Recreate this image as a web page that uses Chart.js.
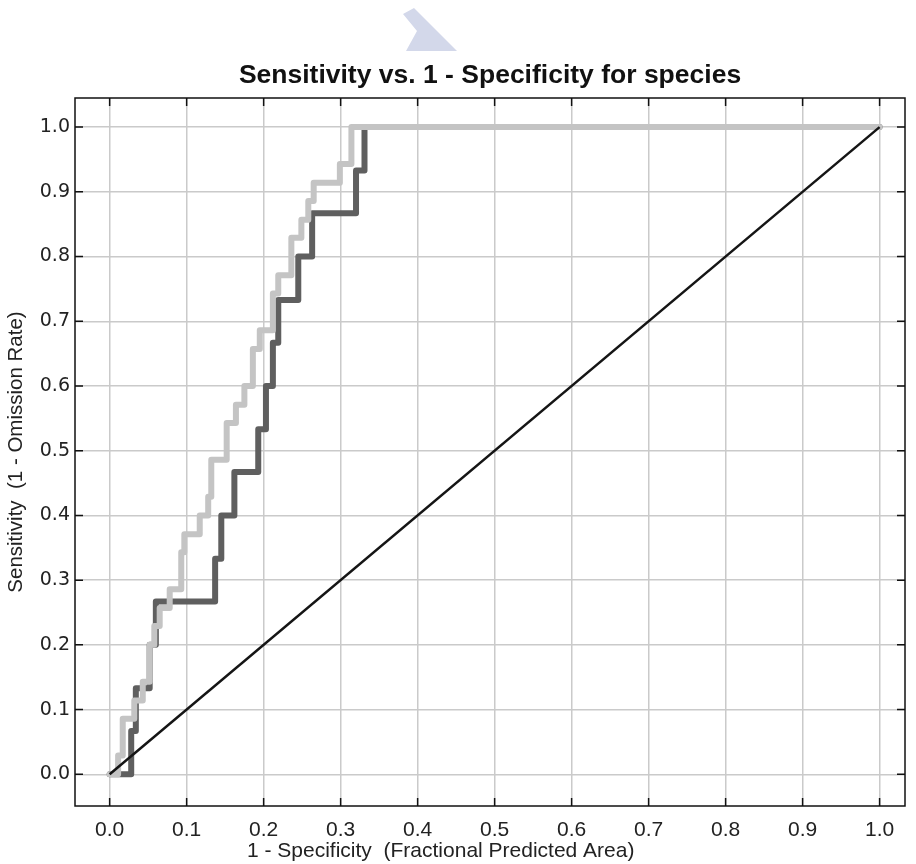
<!DOCTYPE html>
<html>
<head>
<meta charset="utf-8">
<script src="https://cdn.jsdelivr.net/npm/chart.js@4/dist/chart.umd.min.js"></script>
<style>
  html, body { margin: 0; padding: 0; background: #fff; }
  #wrap { width: 916px; height: 864px; }
</style>
</head>
<body>
<div id="wrap"><canvas id="roc"></canvas></div>
<script>
// ROC curve: sensitivity vs. 1 - specificity

const TITLE = 'Sensitivity vs. 1 - Specificity for species';
const X_TITLE = '1 - Specificity  (Fractional Predicted Area)';
const Y_TITLE = 'Sensitivity  (1 - Omission Rate)';

const xTicks = [0.0, 0.1, 0.2, 0.3, 0.4, 0.5, 0.6, 0.7, 0.8, 0.9, 1.0];
const yTicks = [0.0, 0.1, 0.2, 0.3, 0.4, 0.5, 0.6, 0.7, 0.8, 0.9, 1.0];

// training curve (light grey) — top of each vertical step
const trainX = [0.000, 0.011, 0.017, 0.032, 0.043, 0.052, 0.058, 0.065, 0.078, 0.093, 0.097,
                0.117, 0.128, 0.132, 0.152, 0.164, 0.175, 0.186, 0.195, 0.212, 0.219,
                0.236, 0.249, 0.258, 0.265, 0.299, 0.314, 1.000];
const trainY = [0.000, 0.029, 0.086, 0.114, 0.143, 0.200, 0.229, 0.257, 0.286, 0.343, 0.371,
                0.400, 0.429, 0.486, 0.543, 0.571, 0.600, 0.657, 0.686, 0.743, 0.771,
                0.829, 0.857, 0.886, 0.914, 0.943, 1.000, 1.000];

// test curve (dark grey)
const testX = [0.000, 0.028, 0.034, 0.052, 0.060, 0.137, 0.145, 0.162, 0.193, 0.203,
               0.212, 0.219, 0.245, 0.263, 0.320, 0.331, 1.000];
const testY = [0.000, 0.067, 0.133, 0.200, 0.267, 0.333, 0.400, 0.467, 0.533, 0.600,
               0.667, 0.733, 0.800, 0.867, 0.933, 1.000, 1.000];

// random prediction
const randX = [0.0, 1.0];
const randY = [0.0, 1.0];

const toPts = (xs, ys) => xs.map((x, i) => ({ x, y: ys[i] }));

const SANS = '"Liberation Sans", Arial, Helvetica, sans-serif';

// frame, inward tick marks, x title and the faded logo
const framePlugin = {
  id: 'frame',
  beforeDraw(chart) {
    const c = chart.ctx;
    c.save();
    c.fillStyle = '#d3d8ea';
    c.beginPath();
    c.moveTo(403, 14); c.lineTo(414, 8); c.lineTo(457, 51);
    c.lineTo(406, 51); c.lineTo(417, 31); c.closePath();
    c.fill();
    c.restore();
  },
  afterDraw(chart) {
    const { ctx: c, chartArea: a, scales } = chart;
    const len = 8;
    c.save();
    c.strokeStyle = '#111';
    c.lineWidth = 1.5;
    c.strokeRect(a.left, a.top, a.right - a.left, a.bottom - a.top);
    c.beginPath();
    scales.x.ticks.forEach(t => {
      const px = scales.x.getPixelForValue(t.value);
      c.moveTo(px, a.bottom); c.lineTo(px, a.bottom - len);
      c.moveTo(px, a.top); c.lineTo(px, a.top + len);
    });
    scales.y.ticks.forEach(t => {
      const py = scales.y.getPixelForValue(t.value);
      c.moveTo(a.left, py); c.lineTo(a.left + len, py);
      c.moveTo(a.right, py); c.lineTo(a.right - len, py);
    });
    c.stroke();

    c.fillStyle = '#222';
    c.font = '21px ' + SANS;
    c.textAlign = 'center';
    c.textBaseline = 'middle';
    c.fillText(X_TITLE, scales.x.getPixelForValue(0.43), 851);
    c.restore();
  }
};

new Chart(document.getElementById('roc'), {
  type: 'scatter',
  data: {
    datasets: [
      {
        label: 'Random Prediction',
        data: toPts(randX, randY),
        showLine: true,
        borderColor: '#151515',
        borderWidth: 2.5,
        pointRadius: 0
      },
      {
        label: 'Training data',
        data: toPts(trainX, trainY),
        showLine: true,
        stepped: true,
        borderColor: '#c4c4c4',
        borderWidth: 6,
        borderJoinStyle: 'round',
        borderCapStyle: 'round',
        pointRadius: 0
      },
      {
        label: 'Test data',
        data: toPts(testX, testY),
        showLine: true,
        stepped: true,
        borderColor: '#5f5f5f',
        borderWidth: 6,
        borderJoinStyle: 'round',
        borderCapStyle: 'round',
        pointRadius: 0
      }
    ]
  },
  options: {
    responsive: true,
    maintainAspectRatio: false,
    animation: false,
    layout: { padding: { top: 0, right: 11, left: 0, bottom: 0 } },
    plugins: {
      legend: { display: false },
      tooltip: { enabled: false },
      title: {
        display: true,
        fullSize: false,
        text: TITLE,
        color: '#111',
        font: { family: SANS, size: 26.5, weight: 'bold' },
        padding: { top: 60, bottom: 6.2 }
      }
    },
    scales: {
      x: {
        type: 'linear',
        min: -0.045,
        max: 1.033,
        afterBuildTicks: s => { s.ticks = xTicks.map(v => ({ value: v })); },
        afterFit: s => { s.height = 58; },
        grid: { color: '#cacaca', lineWidth: 1.5, drawTicks: false },
        border: { display: false },
        ticks: {
          color: '#222',
          padding: 12,
          maxRotation: 0,
          font: { family: SANS, size: 21 },
          callback: v => Number(v).toFixed(1)
        }
      },
      y: {
        type: 'linear',
        min: -0.049,
        max: 1.045,
        afterBuildTicks: s => { s.ticks = yTicks.map(v => ({ value: v })); },
        afterFit: s => { s.width = 75; },
        grid: { color: '#cacaca', lineWidth: 1.5, drawTicks: false },
        border: { display: false },
        title: {
          display: true,
          text: Y_TITLE,
          color: '#222',
          font: { family: SANS, size: 20.5 },
          padding: { top: 4, bottom: 0 }
        },
        ticks: {
          color: '#222',
          padding: 5,
          font: { family: '"DejaVu Sans", sans-serif', size: 19 },
          callback: v => Number(v).toFixed(1)
        }
      }
    }
  },
  plugins: [framePlugin]
});
</script>
</body>
</html>
